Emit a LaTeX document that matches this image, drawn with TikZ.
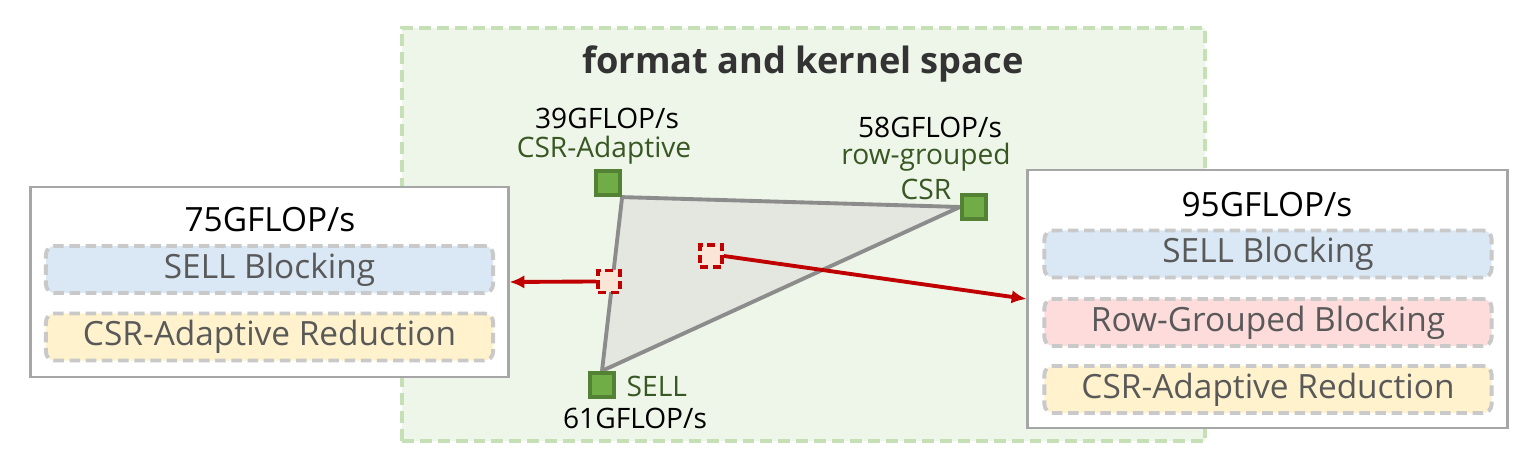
\documentclass[tikz,border=0pt]{standalone}
\usepackage{fontspec}
\setmainfont{Open Sans}
\usetikzlibrary{arrows.meta}

\definecolor{spacefill}{HTML}{EEF5E9}
\definecolor{spaceline}{HTML}{C5E0B4}
\definecolor{fmtfill}{HTML}{70AD47}
\definecolor{fmtline}{HTML}{548235}
\definecolor{fmttext}{HTML}{385723}
\definecolor{trifill}{HTML}{E4E7E0}
\definecolor{triline}{HTML}{8C8C8C}
\definecolor{candfill}{HTML}{FBE5D6}
\definecolor{candred}{HTML}{C00000}
\definecolor{boxline}{HTML}{A6A6A6}
\definecolor{optline}{HTML}{C9C9C9}
\definecolor{opttext}{HTML}{595959}
\definecolor{optblue}{HTML}{DAE8F5}
\definecolor{optpink}{HTML}{FFDCDC}
\definecolor{optyellow}{HTML}{FFF2CC}

\begin{document}
\begin{tikzpicture}[x=0.01cm,y=-0.01cm,
  fmt/.style={draw=fmtline,fill=fmtfill,line width=1.2pt,minimum size=0.24cm,inner sep=0pt},
  cand/.style={draw=candred,fill=candfill,line width=1.1pt,dash pattern=on 2.4pt off 1.2pt,minimum size=0.22cm,inner sep=0pt},
  perf/.style={draw=boxline,fill=white,line width=0.8pt,inner sep=0pt},
  opt/.style={draw=optline,line width=1.1pt,dash pattern=on 3pt off 1.6pt,rounded corners=2.5pt,
    minimum width=4.47cm,minimum height=0.47cm,inner sep=0pt,text=opttext,font=\fontsize{9.5}{11}\selectfont},
  gf/.style={font=\fontsize{8}{10}\selectfont},
  nm/.style={font=\fontsize{8}{10}\selectfont,text=fmttext},
  big/.style={font=\fontsize{9.5}{11}\selectfont}]
\useasboundingbox (0,0) rectangle (1534,456);

% search space
\node[draw=spaceline,fill=spacefill,line width=1pt,dash pattern=on 3.4pt off 1.7pt,
  minimum width=8.03cm,minimum height=4.13cm,inner sep=0pt] (space) at (803.5,234.5) {};
\node[font=\fontsize{10.3}{12}\selectfont\bfseries,text=black!80] (title) at (803,64) {format and kernel space};

% formats
\node[fmt] (csra) at (608,183) {};
\node[fmt] (rgcsr) at (974,207) {};
\node[fmt] (sell) at (602,385) {};
\filldraw[fill=trifill,draw=triline,line width=1.1pt,line join=round]
  (csra.south east) -- (rgcsr.west) -- (sell.north) -- cycle;
\node[fmt] at (608,183) {};
\node[fmt] at (974,207) {};
\node[fmt] at (602,385) {};

\node[gf] (g39) at (607,118) {39GFLOP/s};
\node[nm] (ncsra) at (604,150) {CSR-Adaptive};
\node[gf] (g58) at (930,127) {58GFLOP/s};
\node[nm] (nrg) at (926,157) {row-grouped};
\node[nm] (nrgcsr) at (926,189) {CSR};
\node[nm,anchor=west,inner sep=0pt] (nsell) at (626,386) {SELL};
\node[gf] (g61) at (635,418) {61GFLOP/s};

% candidates
\node[cand] (cand1) at (609,281.5) {};
\node[cand] (cand2) at (711,256) {};

% results
\node[perf,minimum width=4.77cm,minimum height=1.90cm] (lbox) at (269.5,282) {};
\node[big] (g75) at (270,220) {75GFLOP/s};
\node[opt,fill=optblue] (lsell) at (269.5,269.5) {SELL Blocking};
\node[opt,fill=optyellow] (lcsra) at (269.5,337) {CSR-Adaptive Reduction};

\node[perf,minimum width=4.79cm,minimum height=2.58cm] (rbox) at (1267.5,299) {};
\node[big] (g95) at (1267,205) {95GFLOP/s};
\node[opt,fill=optblue] (rsell) at (1268,254) {SELL Blocking};
\node[opt,fill=optpink] (rrg) at (1268,322.5) {Row-Grouped Blocking};
\node[opt,fill=optyellow] (rcsra) at (1268,389.5) {CSR-Adaptive Reduction};

\draw[-{Latex[length=4.2pt,width=3.8pt]},draw=candred,fill=candred,line width=1.1pt] (cand1.west) -- (lbox.east);
\draw[-{Latex[length=4.2pt,width=3.8pt]},draw=candred,fill=candred,line width=1.1pt] (cand2.east) -- (rbox.west);
\end{tikzpicture}
\end{document}
